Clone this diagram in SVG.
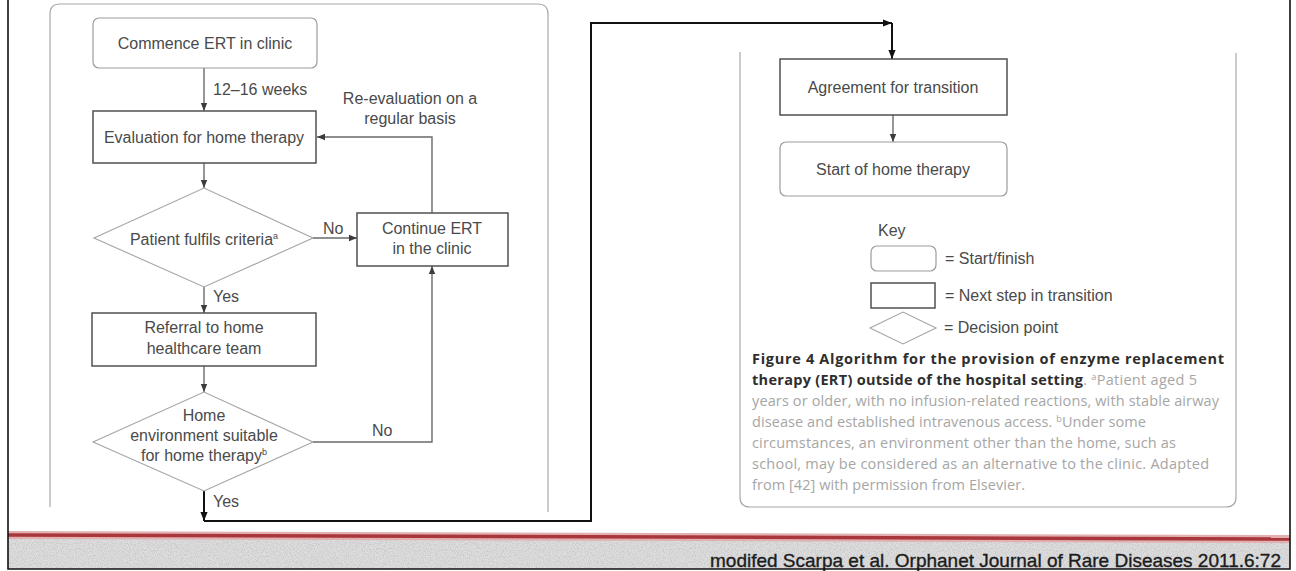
<svg xmlns="http://www.w3.org/2000/svg" width="1296" height="571" viewBox="0 0 1296 571">
  <defs>
    <style>
      .t{font-family:"Liberation Sans",Arial,sans-serif;font-size:16px;fill:#4a4a4a}
      .c{text-anchor:middle}
      .step{fill:#fff;stroke:#505050;stroke-width:1.5}
      .term{fill:#fff;stroke:#9c9c9c;stroke-width:1.2}
      .dec{fill:#fff;stroke:#a4a4a4;stroke-width:1.1}
      .panel{fill:none;stroke:#a8a8a8;stroke-width:1.2}
      .edge{fill:none;stroke:#6a6a6a;stroke-width:1.4}
      .main{fill:none;stroke:#111;stroke-width:2}
      .frame{fill:none;stroke:#111;stroke-width:1.6}
      .cap{font-family:"Open Sans","DejaVu Sans",sans-serif;font-size:14.5px;fill:#a6a6a6}
      .capb{font-weight:700;fill:#2e2e2e}
      .cite{font-family:"Liberation Sans",Arial,sans-serif;font-size:19px;fill:#1c1c1c;stroke:#1c1c1c;stroke-width:0.35}
    </style>
    <marker id="ah" viewBox="0 0 10 10" refX="10" refY="5" markerWidth="8" markerHeight="8" markerUnits="userSpaceOnUse" orient="auto">
      <path d="M0,1 L10,5 L0,9 z" fill="#3c3c3c"/>
    </marker>
    <marker id="ahk" viewBox="0 0 10 10" refX="10" refY="5" markerWidth="9" markerHeight="9" markerUnits="userSpaceOnUse" orient="auto">
      <path d="M0,1 L10,5 L0,9 z" fill="#111"/>
    </marker>
    <filter id="grain" x="0" y="0" width="100%" height="100%">
      <feTurbulence type="fractalNoise" baseFrequency="0.85" numOctaves="2" seed="7" result="n"/>
      <feColorMatrix in="n" type="matrix" values="0 0 0 0 0.45  0 0 0 0 0.45  0 0 0 0 0.48  1.4 0 0 0 -0.55" result="g"/>
      <feComposite in="g" in2="SourceGraphic" operator="in"/>
    </filter>
  </defs>

  <rect x="0" y="0" width="1296" height="571" fill="#fff"/>

  <!-- footer band with red rule -->
  <g id="footer">
    <rect x="8" y="537" width="1282" height="32" fill="#dedede"/>
    <rect x="8" y="537" width="1282" height="32" fill="#fff" filter="url(#grain)"/>
    <path d="M8,535 L1290,539" stroke="#e2b0b0" stroke-width="8" fill="none"/>
    <path d="M8,535 L1290,539" stroke="#a9363a" stroke-width="3.5" fill="none"/>
    <text class="cite" x="710" y="567" textLength="571">modifed Scarpa et al. Orphanet Journal of Rare Diseases 2011.6:72</text>
  </g>

  <!-- outer frame -->
  <path class="frame" d="M8,0 V569 H1290 V0"/>

  <!-- panels -->
  <path id="panel-left" class="panel" d="M50,507 V14 Q50,4 60,4 H538 Q548,4 548,14 V512"/>
  <path id="panel-right" class="panel" d="M740,52 V497 Q740,507 750,507 H1226 Q1236,507 1236,497 V53"/>

  <!-- connectors -->
  <g id="connectors">
    <path class="edge" d="M204,68 V111" marker-end="url(#ah)"/>
    <path class="edge" d="M204,163 V188" marker-end="url(#ah)"/>
    <path class="edge" d="M313,238 H357" marker-end="url(#ah)"/>
    <path class="edge" d="M204,287 V313" marker-end="url(#ah)"/>
    <path class="edge" d="M204,366 V392" marker-end="url(#ah)"/>
    <path class="edge" d="M313,442 H432 V266" marker-end="url(#ah)"/>
    <path class="edge" d="M432,213 V137 H317" marker-end="url(#ah)"/>
    <path class="main" d="M204,491 V521" marker-end="url(#ahk)"/>
    <path class="main" d="M204,521 H591 V23 H892" marker-end="url(#ahk)"/>
    <path class="main" d="M892,23 V59" marker-end="url(#ahk)"/>
    <path class="edge" d="M893,115 V142" marker-end="url(#ah)"/>

    <text class="t" x="213" y="95" font-size="15.5">12–16 weeks</text>
    <text class="t c" x="410" y="104">Re-evaluation on a</text>
    <text class="t c" x="410" y="124">regular basis</text>
    <text class="t" x="323" y="234" font-size="15">No</text>
    <text class="t" x="213" y="302" font-size="15.5">Yes</text>
    <text class="t" x="372" y="436" font-size="15">No</text>
    <text class="t" x="213" y="507" font-size="15.5">Yes</text>
  </g>

  <!-- nodes -->
  <g id="n-commence">
    <rect class="term" x="93" y="18" width="224" height="50" rx="6"/>
    <text class="t c" x="205" y="49">Commence ERT in clinic</text>
  </g>
  <g id="n-evaluation">
    <rect class="step" x="93" y="111" width="223" height="52"/>
    <text class="t c" x="204" y="143">Evaluation for home therapy</text>
  </g>
  <g id="n-criteria">
    <polygon class="dec" points="94,238 204,188 313,238 204,287"/>
    <text class="t c" x="204" y="245">Patient fulfils criteria<tspan font-size="9" dy="-6">a</tspan></text>
  </g>
  <g id="n-continue">
    <rect class="step" x="357" y="213" width="151" height="53"/>
    <text class="t c" x="432" y="234">Continue ERT</text>
    <text class="t c" x="432" y="254">in the clinic</text>
  </g>
  <g id="n-referral">
    <rect class="step" x="92" y="313" width="224" height="53"/>
    <text class="t c" x="204" y="333">Referral to home</text>
    <text class="t c" x="204" y="354">healthcare team</text>
  </g>
  <g id="n-environment">
    <polygon class="dec" points="93,442 204,392 313,442 204,491"/>
    <text class="t c" x="204" y="421">Home</text>
    <text class="t c" x="204" y="441">environment suitable</text>
    <text class="t c" x="204" y="461">for home therapy<tspan font-size="9" dy="-6">b</tspan></text>
  </g>
  <g id="n-agreement">
    <rect class="step" x="780" y="59" width="227" height="56"/>
    <text class="t c" x="893" y="93">Agreement for transition</text>
  </g>
  <g id="n-start">
    <rect class="term" x="780" y="142" width="227" height="54" rx="6"/>
    <text class="t c" x="893" y="175">Start of home therapy</text>
  </g>

  <!-- key -->
  <g id="key">
    <text class="t" x="878" y="236" font-size="15">Key</text>
    <rect class="term" x="871" y="246" width="65" height="25" rx="6"/>
    <text class="t" x="945" y="264">= Start/finish</text>
    <rect class="step" x="871" y="283" width="64" height="25"/>
    <text class="t" x="945" y="301">= Next step in transition</text>
    <polygon class="dec" points="870,328 903,312 936,328 903,344"/>
    <text class="t" x="944" y="333">= Decision point</text>
  </g>

  <!-- caption -->
  <g id="caption" class="cap">
    <text x="752" y="364" textLength="472"><tspan class="capb">Figure 4 Algorithm for the provision of enzyme replacement</tspan></text>
    <text x="752" y="385" textLength="445"><tspan class="capb">therapy (ERT) outside of the hospital setting</tspan>. <tspan font-size="9" dy="-5">a</tspan><tspan dy="5">Patient aged 5</tspan></text>
    <text x="752" y="406" textLength="467">years or older, with no infusion-related reactions, with stable airway</text>
    <text x="752" y="427" textLength="394">disease and established intravenous access. <tspan font-size="9" dy="-5">b</tspan><tspan dy="5">Under some</tspan></text>
    <text x="752" y="448" textLength="424">circumstances, an environment other than the home, such as</text>
    <text x="752" y="469" textLength="457">school, may be considered as an alternative to the clinic. Adapted</text>
    <text x="752" y="490" textLength="273">from [42] with permission from Elsevier.</text>
  </g>
</svg>
